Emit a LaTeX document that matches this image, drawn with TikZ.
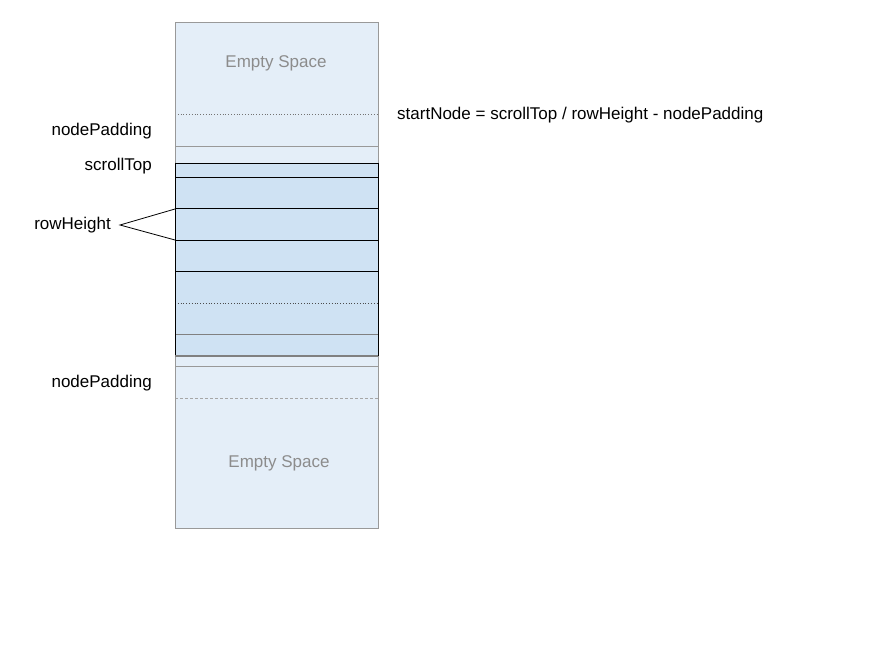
\documentclass[tikz,border=0pt]{standalone}
\usepackage{fontspec}
\setmainfont{Liberation Sans}
\begin{document}
\begin{tikzpicture}[x=1pt,y=-1pt,
  every node/.style={font=\fontsize{17}{20}\selectfont, inner sep=0pt},
  lab/.style={anchor=east},
  ghost/.style={text=black!45},
  padline/.style={draw=black!40, line width=0.8pt},
  rowline/.style={draw=black, line width=0.8pt},
  dotline/.style={draw=black!55, line width=0.8pt, dotted}]
\definecolor{paneFill}{HTML}{E4EEF8}
\definecolor{rowFill}{HTML}{CFE2F3}
\useasboundingbox (0,0) rectangle (880,660);

% whole scroll container
\fill[paneFill] (175,22) rectangle (378,528);
% rendered rows (viewport)
\fill[rowFill] (175,163) rectangle (378,356);

% separators in the padding / empty regions
\draw[dotline] (175,114) -- (378,114);
\draw[padline] (175,146) -- (378,146);
\draw[padline] (175,366) -- (378,366);
\draw[draw=black!35, line width=0.8pt, densely dashed] (175,398) -- (378,398);

% row separators
\foreach \yy in {177,208,240,271} \draw[rowline] (175,\yy) -- (378,\yy);
\draw[draw=black!70, line width=0.8pt, dotted] (175,303) -- (378,303);
\draw[draw=black!50, line width=0.9pt] (175,334) -- (378,334);

% outlines
\draw[draw=black!40, line width=0.8pt] (175,22) rectangle (378,528);
\draw[rowline] (175,163) -- (175,356) (378,163) -- (378,356) (175,163) -- (378,163);
\draw[draw=black!50, line width=1.1pt] (175,356) -- (378,356);

% region captions
\node[ghost] (emptyTop) at (276,63) {Empty Space};
\node[ghost] (emptyBottom) at (279,463) {Empty Space};

% side labels
\node[lab] (padTop) at (152,131) {nodePadding};
\node[lab] (scroll) at (152,166) {scrollTop};
\node[lab] (rowH) at (111,225) {rowHeight};
\node[lab] (padBottom) at (152,383) {nodePadding};

% formula
\node[anchor=west] (formula) at (397,115) {startNode = scrollTop / rowHeight - nodePadding};

% bracket from rowHeight to one row
\coordinate (tip) at (120,225);
\coordinate (rowTop) at (175,209);
\coordinate (rowBot) at (175,240);
\draw[line width=0.8pt] (rowTop) -- (tip) -- (rowBot);
\end{tikzpicture}
\end{document}
